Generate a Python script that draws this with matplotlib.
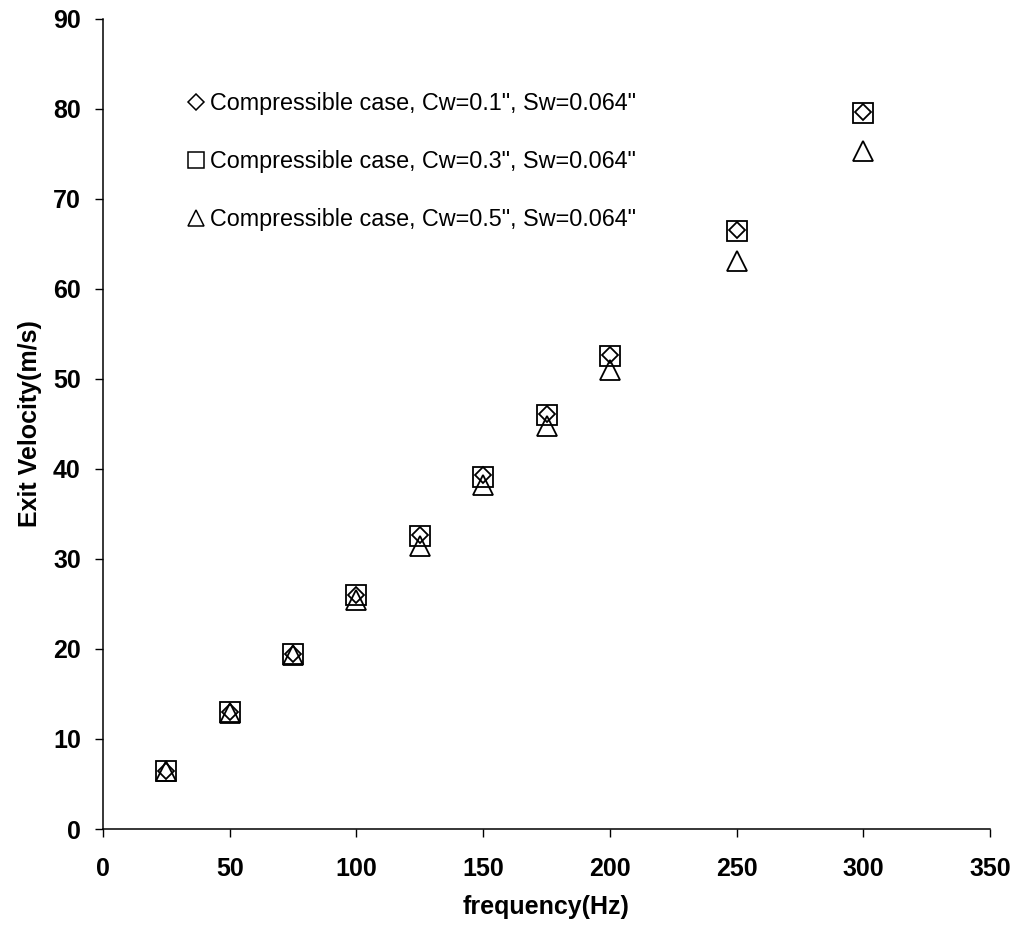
import matplotlib
matplotlib.use("Agg")
import matplotlib.pyplot as plt
from matplotlib.lines import Line2D

plt.rcParams['font.family'] = ['Liberation Sans', 'DejaVu Sans']

freq = [25, 50, 75, 100, 125, 150, 175, 200, 250, 300]
v_cw01 = [6.5, 13.0, 19.4, 26.0, 32.7, 39.3, 46.1, 52.7, 66.5, 79.7]
v_cw03 = [6.5, 13.0, 19.4, 26.0, 32.6, 39.1, 46.0, 52.6, 66.4, 79.6]
v_cw05 = [6.4, 12.9, 19.3, 25.5, 31.5, 38.2, 44.8, 51.0, 63.1, 75.3]

labels = ['Compressible case, Cw=0.1", Sw=0.064"',
          'Compressible case, Cw=0.3", Sw=0.064"',
          'Compressible case, Cw=0.5", Sw=0.064"']
xticks = [0, 50, 100, 150, 200, 250, 300, 350]
yticks = [0, 10, 20, 30, 40, 50, 60, 70, 80, 90]

fig = plt.figure(figsize=(10.19, 9.30), dpi=100)
ax = fig.add_axes([103/1019, 1-829/930, (990-103)/1019, (829-19)/930])

mew = 1.3
ax.plot(freq, v_cw03, linestyle='none', marker='s', markersize=15,
        markerfacecolor='none', markeredgecolor='black', markeredgewidth=mew)
ax.plot(freq, v_cw05, linestyle='none', marker='^', markersize=15,
        markerfacecolor='none', markeredgecolor='black', markeredgewidth=mew)
ax.plot(freq, v_cw01, linestyle='none', marker='D', markersize=7.8,
        markerfacecolor='none', markeredgecolor='black', markeredgewidth=mew)

ax.set_xlim(0, 350)
ax.set_ylim(0, 90)
ax.set_xticks(xticks)
ax.set_yticks(yticks)
ax.set_xticklabels([str(t) for t in xticks], fontsize=18, fontweight='bold')
ax.set_yticklabels([str(t) for t in yticks], fontsize=18, fontweight='bold')
ax.tick_params(axis='both', direction='out', length=6, width=1.0, color='black')
ax.tick_params(axis='x', pad=14)
ax.tick_params(axis='y', pad=10)
for s in ['top', 'right']:
    ax.spines[s].set_visible(False)
for s in ['left', 'bottom']:
    ax.spines[s].set_linewidth(1.1)

ax.set_xlabel('frequency(Hz)', fontsize=18, fontweight='bold', labelpad=10)
ax.set_ylabel('Exit Velocity(m/s)', fontsize=18, fontweight='bold', labelpad=8)

handles = [
    Line2D([], [], linestyle='none', marker='D', markersize=7.8,
           markerfacecolor='none', markeredgecolor='black', markeredgewidth=1.1),
    Line2D([], [], linestyle='none', marker='s', markersize=11,
           markerfacecolor='none', markeredgecolor='black', markeredgewidth=1.1),
    Line2D([], [], linestyle='none', marker='^', markersize=11,
           markerfacecolor='none', markeredgecolor='black', markeredgewidth=1.1),
]
fig.legend(handles, labels, loc='upper left', bbox_to_anchor=(187/1019, 1-92/930),
           frameon=False, fontsize=16.8, handlelength=0.75, handletextpad=0.25,
           labelspacing=1.5, borderaxespad=0, borderpad=0)

fig.savefig('out.png', dpi=100)
